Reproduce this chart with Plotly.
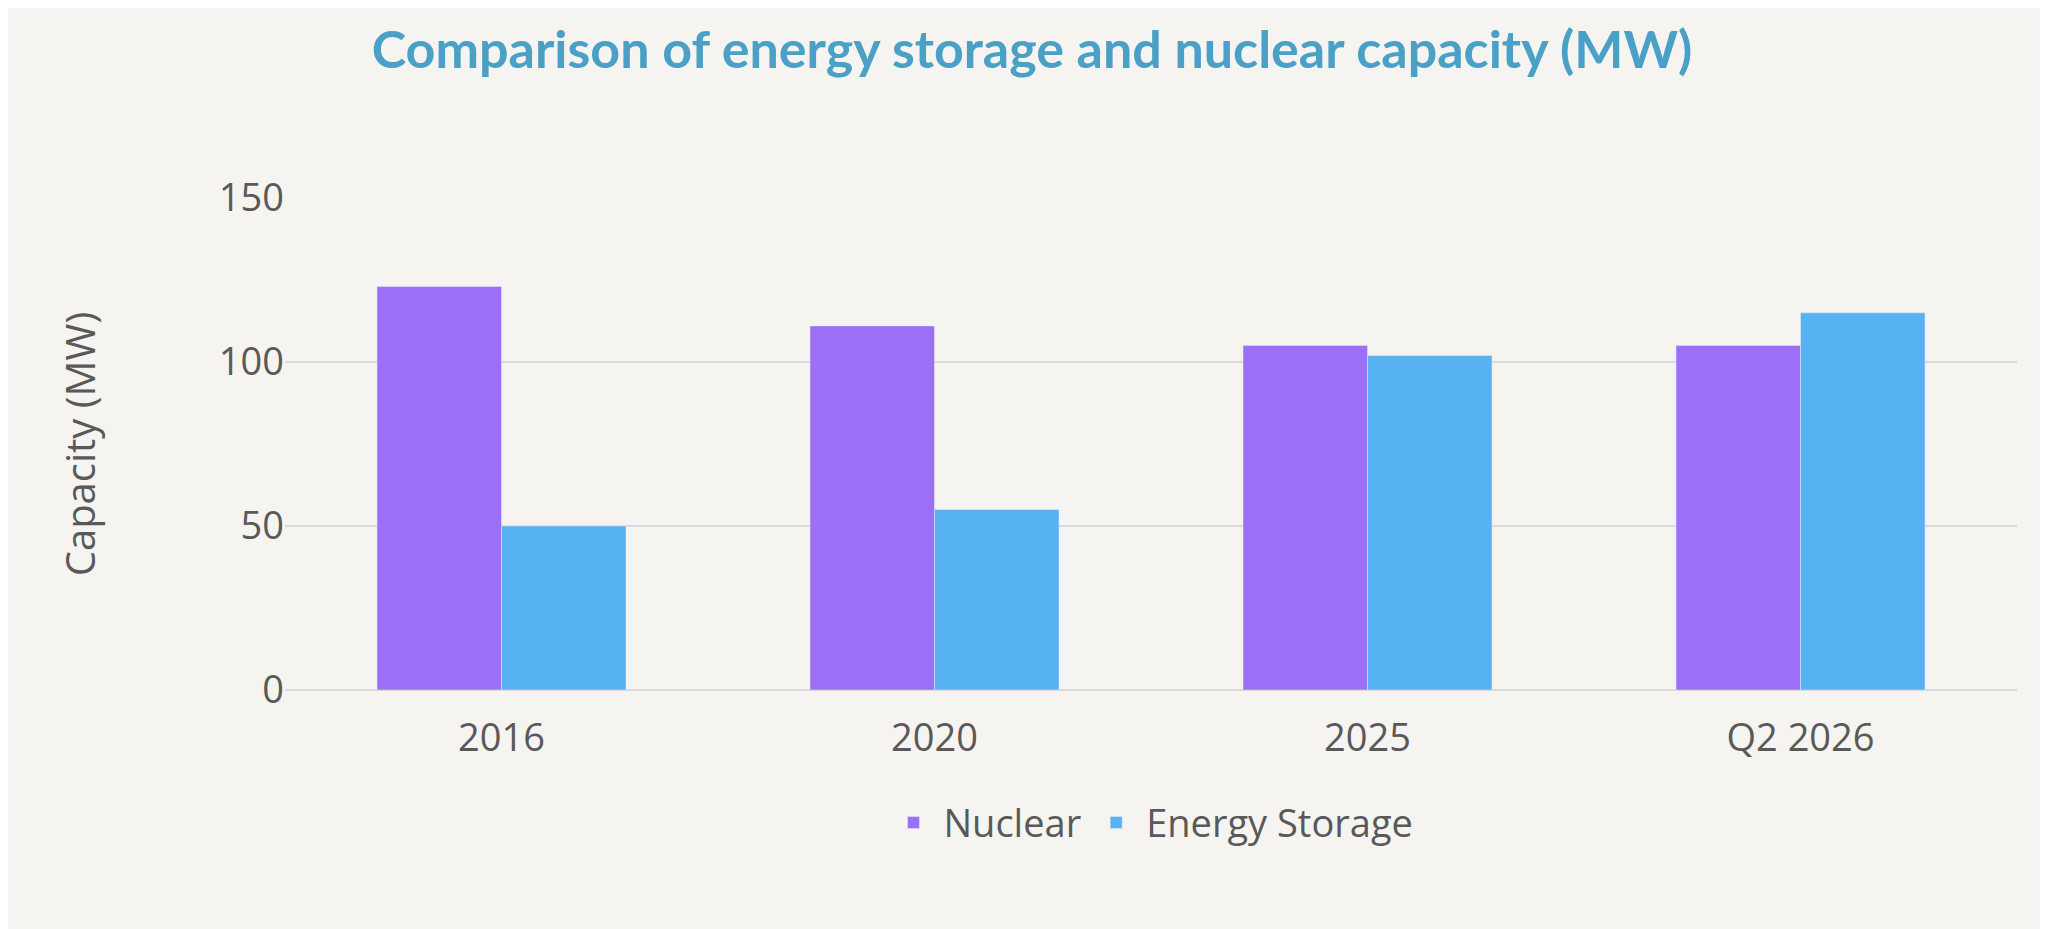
import plotly.graph_objects as go

categories = ["2016", "2020", "2025", "Q2 2026"]
nuclear = [123, 111, 105, 105]
storage = [50, 55, 102, 115]

fig = go.Figure()
fig.add_bar(x=categories, y=nuclear, name="Nuclear", marker_color="#9b6ff6")
fig.add_bar(x=categories, y=storage, name="Energy Storage", marker_color="#56b2f3")
fig.update_layout(
    width=2048, height=929,
    paper_bgcolor="#f5f4f1", plot_bgcolor="#f5f4f1",
    barmode="group", bargap=0.425, bargroupgap=0,
    margin=dict(l=277, r=39, t=190, b=247),
    title=dict(text="<b>Comparison of energy storage and nuclear capacity (MW)</b>",
               x=0.5, xanchor="center", y=0.955, yanchor="middle",
               font=dict(family="Lato", size=52, weight=900, color="#4aa0c6")),
    font=dict(family="Open Sans", color="#595959"),
    legend=dict(orientation="h", x=0.5, xanchor="center", y=-0.27, yanchor="middle",
                font=dict(size=38, color="#595959"), itemwidth=50, tracegroupgap=0),
    yaxis=dict(range=[0, 150], tickvals=[0, 50, 100, 150], gridcolor="#d9d9d9", gridwidth=2,
               tickfont=dict(size=38), zeroline=True, zerolinecolor="#d9d9d9", zerolinewidth=2,
               title=dict(text="Capacity (MW)", font=dict(size=40), standoff=110)),
    xaxis=dict(tickfont=dict(size=38), ticklabelstandoff=22),
)
fig.write_html("out.html")
